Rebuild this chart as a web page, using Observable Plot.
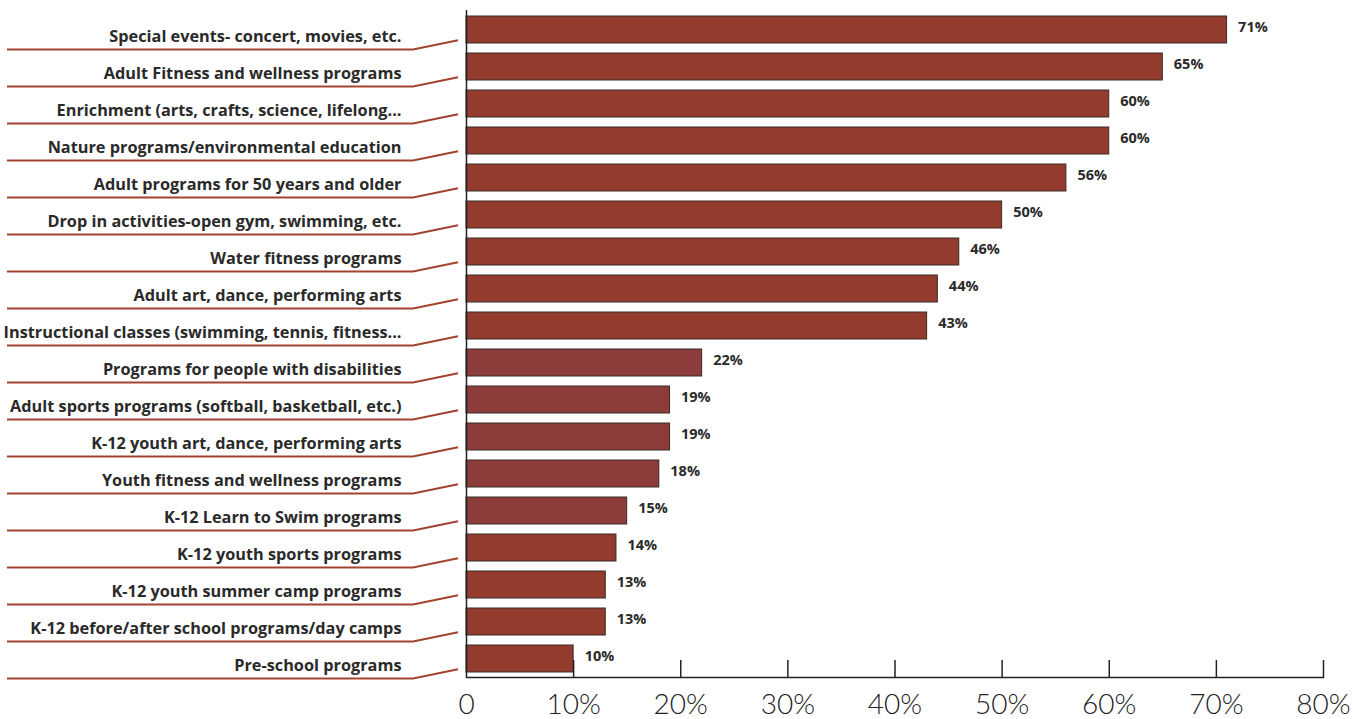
<!DOCTYPE html>
<html>
<head>
<meta charset="utf-8">
<script src="https://cdn.jsdelivr.net/npm/d3@7"></script>
<script src="https://cdn.jsdelivr.net/npm/@observablehq/plot@0.6"></script>
<style>
  html, body { margin: 0; padding: 0; background: #fff; }
  #chart svg { display: block; }
</style>
</head>
<body>
<div id="chart"></div>
<script>
const categories = [
  "Special events- concert, movies, etc.",
  "Adult Fitness and wellness programs",
  "Enrichment (arts, crafts, science, lifelong...",
  "Nature programs/environmental education",
  "Adult programs for 50 years and older",
  "Drop in activities-open gym, swimming, etc.",
  "Water fitness programs",
  "Adult art, dance, performing arts",
  "Instructional classes (swimming, tennis, fitness...",
  "Programs for people with disabilities",
  "Adult sports programs (softball, basketball, etc.)",
  "K-12 youth art, dance, performing arts",
  "Youth fitness and wellness programs",
  "K-12 Learn to Swim programs",
  "K-12 youth sports programs",
  "K-12 youth summer camp programs",
  "K-12 before/after school programs/day camps",
  "Pre-school programs"
];
const values = [71, 65, 60, 60, 56, 50, 46, 44, 43, 22, 19, 19, 18, 15, 14, 13, 13, 10];
const groups = ["a","a","a","a","a","a","a","a","a","b","b","b","b","b","a","a","a","a"];
const xTicks = [0, 10, 20, 30, 40, 50, 60, 70, 80];

const data = categories.map((c, i) => ({cat: c, value: values[i], group: groups[i]}));
const FONT = "Lato, 'Open Sans', sans-serif";
const LABEL_FONT = "'Open Sans', Lato, sans-serif";

const underline = (index, scales, values, dimensions) => {
  const g = d3.create("svg:g");
  const bw = scales.y.bandwidth ? scales.y.bandwidth() : 0;
  const x0 = scales.x(0);
  for (const c of categories) {
    const cy = scales.y(c) + bw / 2;
    g.append("path")
      .attr("d", `M${x0 - 459},${cy + 20.1}L${x0 - 53},${cy + 20.1}L${x0 - 8},${cy + 10.8}`)
      .attr("fill", "none")
      .attr("stroke", "#a3432f")
      .attr("stroke-width", 2);
  }
  return g.node();
};

const chart = Plot.plot({
  width: 1353,
  height: 719,
  marginLeft: 466,
  marginRight: 30,
  marginTop: 10,
  marginBottom: 42,
  style: {fontFamily: FONT, background: "#fff"},
  x: {domain: [0, 80], axis: null},
  y: {domain: categories, axis: null, paddingInner: 0.282, paddingOuter: 0.141, align: 0.5},
  color: {domain: ["a", "b"], range: ["#933b2d", "#8b3c3b"]},
  marks: [
    underline,
    Plot.barX(data, {x: "value", y: "cat", fill: "group", stroke: "#3b2a27", strokeWidth: 1}),
    Plot.ruleX(xTicks.filter(d => d > 0), {x: d => d, insetTop: 650, stroke: "#222", strokeWidth: 1.5}),
    Plot.ruleX([0], {stroke: "#222", strokeWidth: 1.5}),
    Plot.frame({anchor: "bottom", stroke: "#222", strokeWidth: 1.5}),
    Plot.text(data, {
      y: "cat", text: "cat", frameAnchor: "left", textAnchor: "end",
      dx: -65, dy: 6.5, fontSize: 16.3, fontWeight: 700, fill: "#2a2a2a", fontFamily: LABEL_FONT
    }),
    Plot.text(data, {
      x: "value", y: "cat", text: d => d.value + "%", textAnchor: "start",
      dx: 11, dy: -2.3, fontSize: 14.5, fontWeight: 700, fill: "#2a2a2a", fontFamily: LABEL_FONT
    }),
    Plot.text(xTicks, {
      x: d => d, text: d => d === 0 ? "0" : d + "%", frameAnchor: "bottom",
      dy: 36, fontSize: 28, fontWeight: 300, fill: "#222"
    })
  ]
});
document.getElementById("chart").appendChild(chart);
</script>
</body>
</html>
